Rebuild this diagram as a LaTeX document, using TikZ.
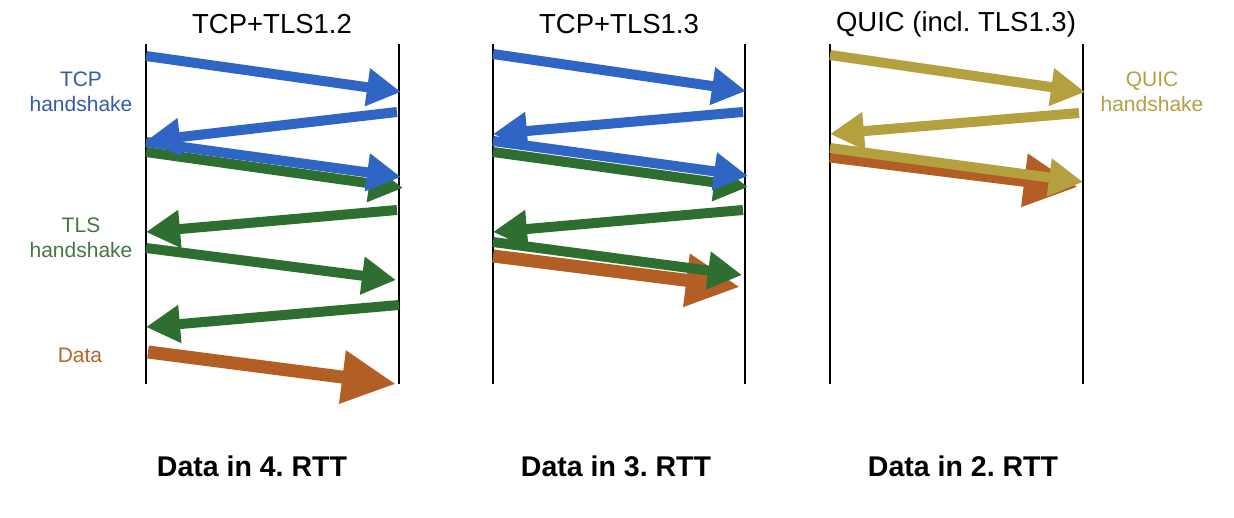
\documentclass[tikz,border=0pt]{standalone}
\usepackage{fontspec}
\setmainfont{Liberation Sans}
\usetikzlibrary{arrows.meta}
\definecolor{cblue}{RGB}{47,102,198}
\definecolor{tblue}{RGB}{52,92,165}
\definecolor{cgreen}{RGB}{46,110,48}
\definecolor{tgreen}{RGB}{68,118,68}
\definecolor{corange}{RGB}{178,94,36}
\definecolor{torange}{RGB}{186,100,45}
\definecolor{cgold}{RGB}{181,160,64}
\frenchspacing
\begin{document}
\begin{tikzpicture}[x=1pt,y=-1pt,
  lifeline/.style={line width=2pt,black},
  msg/.style={line width=10pt,-{Triangle[length=34pt,width=36pt]}},
  datamsg/.style={line width=13pt,corange,-{Triangle[length=54pt,width=50pt]}},
  ttl/.style={font=\fontsize{27.5}{32}\selectfont,inner sep=0pt},
  side/.style={font=\fontsize{21}{25.5}\selectfont,align=center,inner sep=0pt},
  foot/.style={font=\fontsize{28.5}{32}\selectfont\bfseries,inner sep=0pt}]
\useasboundingbox (0,0) rectangle (1234,518);
% titles
\node[ttl] (t1) at (272,24) {TCP+TLS1.2};
\node[ttl] (t2) at (619,24) {TCP+TLS1.3};
\node[ttl] (t3) at (956,24) {QUIC (incl. TLS1.3)};
% lifelines
\foreach \n/\x in {a/146,b/399,c/493,d/745,e/830,f/1083}{
  \coordinate (\n top) at (\x,44);
  \coordinate (\n bot) at (\x,384);
  \draw[lifeline] (\n top) -- (\n bot);
}
% side labels
\node[side,text=tblue] (l1) at (81,92) {TCP\\handshake};
\node[side,text=tgreen] (l2) at (81,238) {TLS\\handshake};
\node[side,text=torange] (l3) at (80,355) {Data};
\node[side,text=cgold] (l4) at (1152,92) {QUIC\\handshake};
% footers
\node[foot] (f1) at (252,466) {Data in 4. RTT};
\node[foot] (f2) at (616,466) {Data in 3. RTT};
\node[foot] (f3) at (963,466) {Data in 2. RTT};
% panel 1
\coordinate (p1a) at (146,56);  \coordinate (p1b) at (401,92);
\coordinate (p1c) at (397,112); \coordinate (p1d) at (146,141);
\coordinate (p1e) at (146,142); \coordinate (p1f) at (401,177);
\coordinate (p1g) at (146,152); \coordinate (p1h) at (403,188);
\coordinate (p1i) at (397,210); \coordinate (p1j) at (146,232);
\coordinate (p1k) at (146,248); \coordinate (p1l) at (396,280);
\coordinate (p1m) at (399,305); \coordinate (p1n) at (146,327);
\coordinate (p1o) at (148,352); \coordinate (p1p) at (396,384);
\draw[datamsg] (p1o) -- (p1p);
\draw[msg,cgreen] (p1m) -- (p1n);
\draw[msg,cgreen] (p1k) -- (p1l);
\draw[msg,cgreen] (p1i) -- (p1j);
\draw[msg,cgreen] (p1g) -- (p1h);
\draw[msg,cblue] (p1e) -- (p1f);
\draw[msg,cblue] (p1c) -- (p1d);
\draw[msg,cblue] (p1a) -- (p1b);
% panel 2
\coordinate (p2a) at (493,54);  \coordinate (p2b) at (746,91);
\coordinate (p2c) at (743,112); \coordinate (p2d) at (493,134);
\coordinate (p2e) at (493,141); \coordinate (p2f) at (748,176);
\coordinate (p2g) at (493,152); \coordinate (p2h) at (748,187);
\coordinate (p2i) at (743,210); \coordinate (p2j) at (493,232);
\coordinate (p2k) at (493,242); \coordinate (p2l) at (742,275);
\coordinate (p2o) at (493,256); \coordinate (p2p) at (740,287);
\draw[datamsg] (p2o) -- (p2p);
\draw[msg,cgreen] (p2k) -- (p2l);
\draw[msg,cgreen] (p2i) -- (p2j);
\draw[msg,cgreen] (p2g) -- (p2h);
\draw[msg,cblue] (p2e) -- (p2f);
\draw[msg,cblue] (p2c) -- (p2d);
\draw[msg,cblue] (p2a) -- (p2b);
% panel 3
\coordinate (p3a) at (830,55);   \coordinate (p3b) at (1085,92);
\coordinate (p3c) at (1079,113); \coordinate (p3d) at (830,134);
\coordinate (p3e) at (830,148);  \coordinate (p3f) at (1083,182);
\coordinate (p3o) at (830,156);  \coordinate (p3p) at (1078,187);
\draw[datamsg] (p3o) -- (p3p);
\draw[msg,cgold] (p3e) -- (p3f);
\draw[msg,cgold] (p3c) -- (p3d);
\draw[msg,cgold] (p3a) -- (p3b);
\end{tikzpicture}
\end{document}
